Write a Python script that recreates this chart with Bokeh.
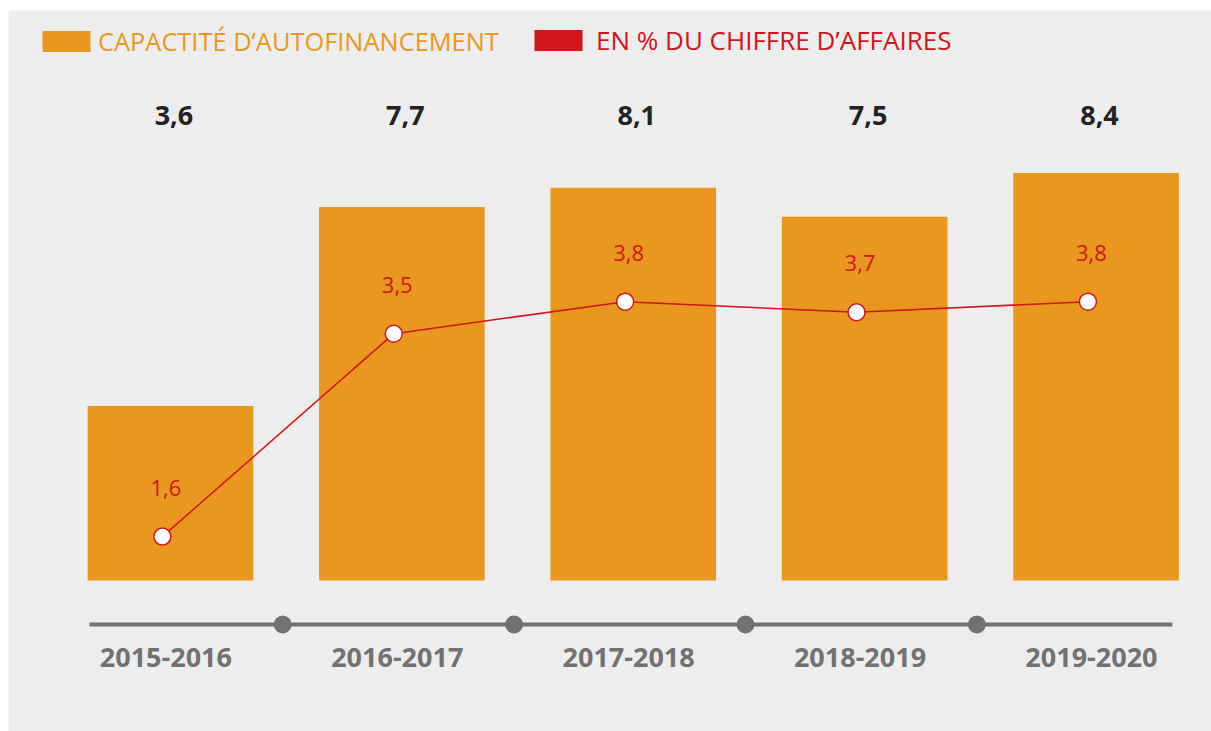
from bokeh.plotting import figure
from bokeh.models import Range1d, ColumnDataSource, Legend, LegendItem
from bokeh.core.properties import value
from bokeh.embed import file_html
from bokeh.resources import INLINE
from bokeh.transform import dodge

# ---- data ----
periods = ["2015-2016", "2016-2017", "2017-2018", "2018-2019", "2019-2020"]
caf = [3.6, 7.7, 8.1, 7.5, 8.4]          # capacité d'autofinancement
pct_ca = [1.6, 3.5, 3.8, 3.7, 3.8]       # en % du chiffre d'affaires
legend_caf = "CAPACTITÉ D’AUTOFINANCEMENT"
legend_pct = "EN % DU CHIFFRE D’AFFAIRES"

# ---- styles ----
ORANGE = "#EA9720"
RED = "#D0151B"
DARK = "#222222"
GRAY = "#717171"
BG = "#EDEDED"
FONT = "Open Sans"

def fr(v):
    return f"{v:.1f}".replace(".", ",")

idx = list(range(len(periods)))
src = ColumnDataSource(dict(
    x=idx,
    period=periods,
    caf=caf,
    pct=pct_ca,
    zero=[0] * len(idx),
    caf_label=[fr(v) for v in caf],
    pct_label=[fr(v) for v in pct_ca],
))

p = figure(width=1211, height=731,
           x_range=Range1d(-0.700, 4.499),
           y_range=Range1d(-3.113, 11.753),
           x_axis_location=None, y_axis_location=None,
           output_backend="svg", toolbar_location=None,
           min_border_left=8, min_border_top=10,
           min_border_right=0, min_border_bottom=0,
           outline_line_color=None,
           background_fill_color=BG, border_fill_color="white")
p.extra_y_ranges = {"pct": Range1d(-0.2247, 6.526)}
p.xgrid.visible = False
p.ygrid.visible = False

# bars
bars = p.vbar(x="x", top="caf", bottom=0, width=0.716, source=src,
              fill_color=ORANGE, line_color=None)

# value labels on top row
p.text(x=dodge("x", 0.015), y=9.59, text="caf_label", source=src,
       text_align="center", text_baseline="middle",
       text_font=value(FONT), text_font_style="bold",
       text_font_size="27px", text_color=DARK)

# line for percentage
p.line(x=dodge("x", -0.035), y="pct", source=src, y_range_name="pct",
       line_color=RED, line_width=1.5)
p.scatter(x=dodge("x", -0.035), y="pct", source=src, y_range_name="pct",
          marker="circle", size=17, fill_color="white",
          line_color=RED, line_width=1.5)
p.text(x=dodge("x", -0.02), y="pct", source=src, y_range_name="pct",
       y_offset=-49, text="pct_label",
       text_align="center", text_baseline="middle",
       text_font=value(FONT), text_font_size="22px", text_color=RED)

# custom category axis
axis_y = -0.907
p.segment(x0=idx[0] - 0.35, y0=axis_y, x1=idx[-1] + 0.33, y1=axis_y,
          line_color=GRAY, line_width=4)
p.scatter(x=[i + 0.485 for i in idx[:-1]], y=axis_y,
          marker="circle", size=18, fill_color=GRAY, line_color=None)
p.text(x=dodge("x", -0.02), y=-1.59, text="period", source=src,
       text_align="center", text_baseline="middle",
       text_font=value(FONT), text_font_style="bold",
       text_font_size="27px", text_color=GRAY)

# zero-height proxy bars giving the red legend swatch
red_swatch = p.vbar(x="x", top="zero", bottom=0, width=0.7, source=src,
                    fill_color=RED, line_color=None)

common = dict(orientation="horizontal", glyph_width=60, glyph_height=26,
              label_height=26, label_text_font=FONT,
              border_line_color=None,
              background_fill_alpha=0, padding=0, margin=0, spacing=0)
leg1 = Legend(items=[LegendItem(label=legend_caf, renderers=[bars])],
              location=(28, 673), label_standoff=2,
              label_text_color=ORANGE, label_text_font_size="25.4px",
              **common)
leg2 = Legend(items=[LegendItem(label=legend_pct, renderers=[red_swatch])],
              location=(520, 673), label_standoff=8,
              label_text_color=RED, label_text_font_size="26px",
              **common)
p.add_layout(leg1)
p.add_layout(leg2)

open("out.html", "w").write(file_html(p, INLINE))
